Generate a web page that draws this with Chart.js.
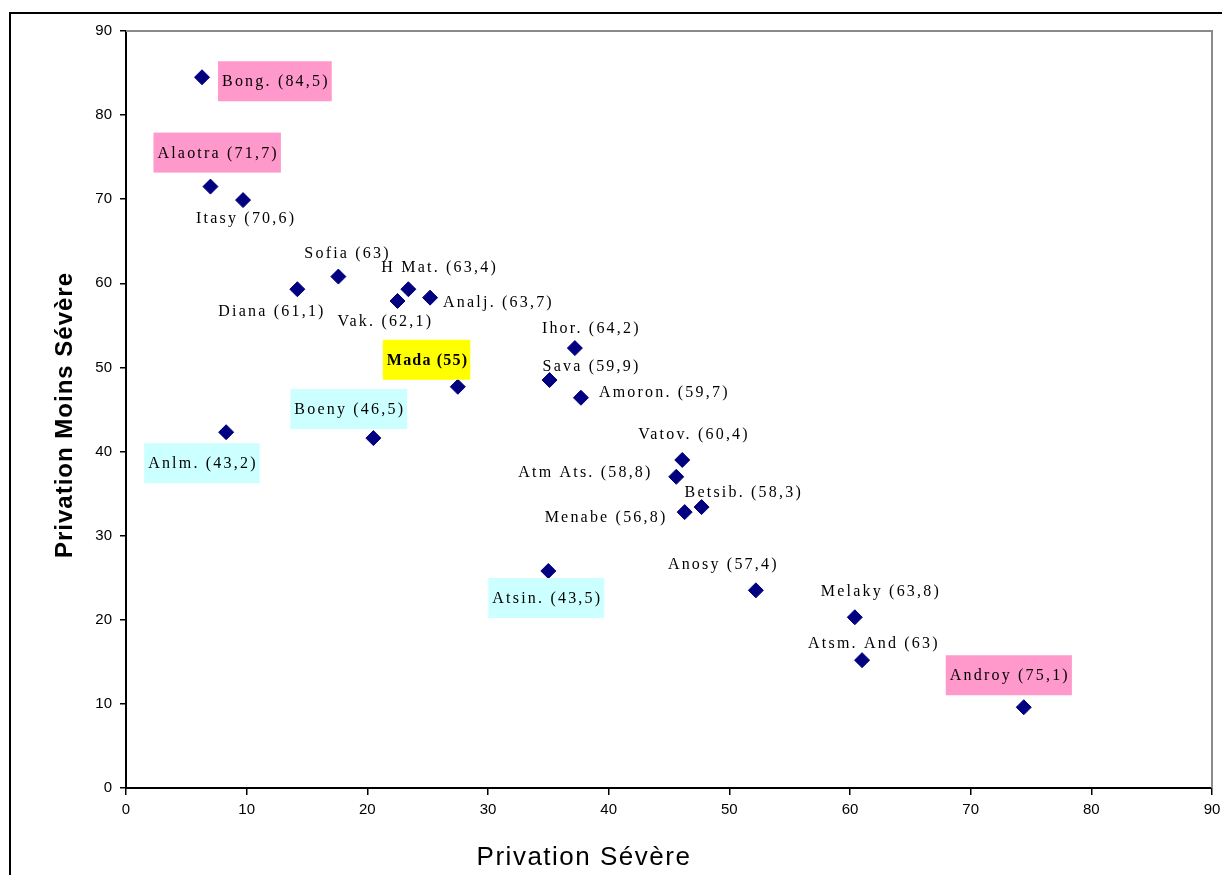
<!DOCTYPE html>
<html>
<head>
<meta charset="utf-8">
<script src="https://cdn.jsdelivr.net/npm/chart.js@4"></script>
<style>
  html,body{margin:0;padding:0;background:#fff;}
  #wrap{position:relative;width:1222px;height:875px;overflow:hidden;}
  #frame{position:absolute;left:9px;top:12px;width:1240px;height:900px;border-left:2px solid #000;border-top:2px solid #000;box-sizing:border-box;}
  canvas{position:absolute;left:0;top:0;}
</style>
</head>
<body>
<div id="wrap">
  <div id="frame"></div>
  <canvas id="c" width="1222" height="875"></canvas>
</div>
<script>
// ---- Data ----
const regions = ["Bong. (84,5)","Alaotra (71,7)","Itasy (70,6)","Diana (61,1)","Sofia (63)","Vak. (62,1)","H Mat. (63,4)","Analj. (63,7)","Ihor. (64,2)","Sava (59,9)","Amoron. (59,7)","Mada (55)","Boeny (46,5)","Anlm. (43,2)","Vatov. (60,4)","Atm Ats. (58,8)","Betsib. (58,3)","Menabe (56,8)","Atsin. (43,5)","Anosy (57,4)","Melaky (63,8)","Atsm. And (63)","Androy (75,1)"];
const privationSevere = [6.3, 7.0, 9.7, 14.2, 17.6, 22.5, 23.4, 25.2, 37.2, 35.1, 37.7, 27.5, 20.5, 8.3, 46.1, 45.6, 47.7, 46.3, 35.0, 52.2, 60.4, 61.0, 74.4];
const privationMoinsSevere = [84.5, 71.5, 69.9, 59.3, 60.8, 57.9, 59.3, 58.3, 52.3, 48.5, 46.4, 47.7, 41.6, 42.3, 39.0, 37.0, 33.4, 32.8, 25.8, 23.5, 20.3, 15.2, 9.6];
const tickValues = [0,10,20,30,40,50,60,70,80,90];

// ---- Label layout (annotation offsets relative to each point, and highlight colours) ----
const labelOffsets = [[20,4],[-53,-34],[-47,18],[-79,22],[-34,-24],[-60,20],[-27,-22],[13,4],[-33,-20],[-7,-14],[18,-6],[-71,-27],[-79,-29],[-78,31],[-44,-26],[-158,-5],[-17,-15],[-140,5],[-56,27],[-88,-27],[-34,-26],[-54,-17],[-74,-32]];
const PINK = "#FF99CC", CYAN = "#CCFFFF", YELLOW = "#FFFF00";
const labelBoxes = [PINK,PINK,null,null,null,null,null,null,null,null,null,YELLOW,CYAN,CYAN,null,null,null,null,CYAN,null,null,null,PINK];

const points = privationSevere.map((x,i)=>({x:x, y:privationMoinsSevere[i]}));

const labelPlugin = {
  id:'labels',
  afterDatasetsDraw(chart){
    const ctx = chart.ctx;
    const meta = chart.getDatasetMeta(0);
    ctx.save();
    meta.data.forEach((el,i)=>{
      const isBold = labelBoxes[i]===YELLOW;
      ctx.font = (isBold?'bold ':'') + '16px "Liberation Serif", "Times New Roman", serif';
      ctx.letterSpacing = isBold ? '1.2px' : '2.2px';
      const tx = el.x + labelOffsets[i][0];
      const ty = el.y + labelOffsets[i][1];
      const w = ctx.measureText(regions[i]).width;
      if(labelBoxes[i]){
        ctx.fillStyle = labelBoxes[i];
        ctx.fillRect(tx-4, ty-20, w+6, 40);
      }
      ctx.fillStyle = '#000';
      ctx.textBaseline = 'middle';
      ctx.textAlign = 'left';
      ctx.fillText(regions[i], tx, ty+1);
    });
    ctx.restore();
  }
};

const framePlugin = {
  id:'frame',
  beforeDatasetsDraw(chart){
    const {ctx, chartArea:a} = chart;
    ctx.save();
    ctx.strokeStyle = '#8a8a8a';
    ctx.lineWidth = 2;
    ctx.beginPath();
    ctx.moveTo(a.left, a.top);
    ctx.lineTo(a.right, a.top);
    ctx.lineTo(a.right, a.bottom);
    ctx.stroke();
    ctx.restore();
  },
  afterDraw(chart){
    const {ctx, chartArea:a} = chart;
    ctx.save();
    ctx.fillStyle = '#000';
    ctx.font = 'bold 24px "Liberation Sans", Arial, sans-serif';
    ctx.letterSpacing = '1px';
    ctx.textAlign = 'center';
    ctx.textBaseline = 'middle';
    ctx.translate(65, 415);
    ctx.rotate(-Math.PI/2);
    ctx.fillText('Privation Moins Sévère', 0, 0);
    ctx.restore();
    ctx.save();
    ctx.fillStyle = '#000';
    ctx.font = '26px "Liberation Sans Narrow", "Arial Narrow", "Liberation Sans", sans-serif';
    ctx.letterSpacing = '1.5px';
    ctx.textAlign = 'center';
    ctx.textBaseline = 'middle';
    ctx.fillText('Privation Sévère', 584, 858);
    ctx.restore();
  }
};

const tickFont = {family:'"Liberation Sans Narrow", "Arial Narrow", "Liberation Sans", sans-serif', size:15};

new Chart(document.getElementById('c'), {
  type:'scatter',
  data:{datasets:[{
    data:points,
    pointStyle:'rectRot',
    pointRadius:7.5,
    pointHoverRadius:7.5,
    backgroundColor:'#000080',
    borderColor:'#000080',
    borderWidth:1
  }]},
  options:{
    responsive:false,
    animation:false,
    events:[],
    layout:{padding:{top:31,right:10,left:0,bottom:0}},
    plugins:{legend:{display:false}, tooltip:{enabled:false}},
    scales:{
      x:{
        type:'linear', min:0, max:90,
        afterBuildTicks(s){ s.ticks = tickValues.map(v=>({value:v})); },
        afterFit(s){ s.height = 87; s.paddingRight = 0; s.paddingLeft = 0; },
        border:{color:'#000', width:2},
        grid:{display:true, drawOnChartArea:false, drawTicks:true, tickLength:7, color:'#000', lineWidth:1.5},
        ticks:{color:'#000', font:tickFont, padding:6, maxRotation:0}
      },
      y:{
        type:'linear', min:0, max:90,
        afterBuildTicks(s){ s.ticks = tickValues.map(v=>({value:v})); },
        afterFit(s){ s.width = 126; s.paddingTop = 0; },
        border:{color:'#000', width:2},
        grid:{display:true, drawOnChartArea:false, drawTicks:true, tickLength:6, color:'#000', lineWidth:1.5},
        ticks:{color:'#000', font:tickFont, padding:8}
      }
    }
  },
  plugins:[framePlugin, labelPlugin]
});
</script>
</body>
</html>
